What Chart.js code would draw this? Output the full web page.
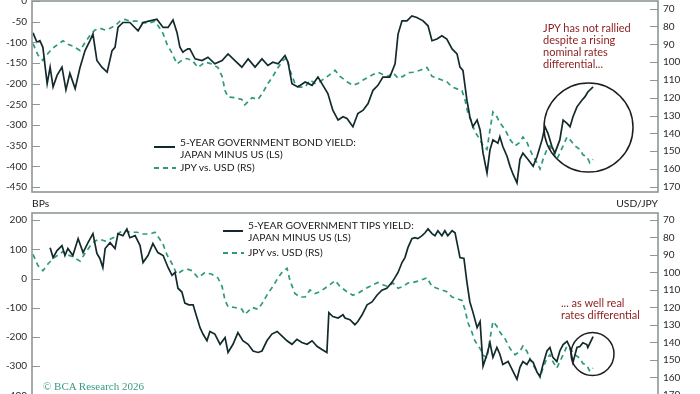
<!DOCTYPE html>
<html>
<head>
<meta charset="utf-8">
<title>JPY vs rates differentials</title>
<style>
	html, body { margin: 0; padding: 0; width: 700px; height: 394px; overflow: hidden; background: #fff; font-family: Lato, "Open Sans", sans-serif; }
	canvas { position: absolute; left: 0; }
	#topChart { top: -10px; }
	#botChart { top: 202px; }
	.txt { position: absolute; white-space: nowrap; color: #1a1a1a; font-size: 10.3px; line-height: 11.5px; }
	.note { position: absolute; white-space: nowrap; color: #8b1c1c; font-size: 11px; line-height: 12px; }
	#marks { position: absolute; left: 0; top: 0; }
</style>
</head>
<body>

<canvas id="topChart" width="700" height="213"></canvas>
<canvas id="botChart" width="700" height="208"></canvas>

<svg id="marks" width="700" height="394">
	<line x1="154" y1="147" x2="175" y2="147" stroke="#132a2c" stroke-width="2"/>
	<line x1="154" y1="168" x2="176" y2="168" stroke="#2e9a79" stroke-width="2" stroke-dasharray="5 4"/>
	<line x1="223" y1="231" x2="243" y2="231" stroke="#132a2c" stroke-width="2"/>
	<line x1="223" y1="253" x2="244" y2="253" stroke="#2e9a79" stroke-width="2" stroke-dasharray="5 4"/>
	<circle cx="588.5" cy="127.5" r="44.5" fill="none" stroke="#1e1e1e" stroke-width="1.5"/>
	<circle cx="592.5" cy="354" r="21.5" fill="none" stroke="#1e1e1e" stroke-width="1.5"/>
</svg>

<div class="txt" style="left:180px; top:137px">5-YEAR GOVERNMENT BOND YIELD:<br>JAPAN MINUS US (LS)</div>
<div class="txt" style="left:180px; top:162px">JPY vs. USD (RS)</div>
<div class="txt" style="left:248px; top:220px">5-YEAR GOVERNMENT TIPS YIELD:<br>JAPAN MINUS US (LS)</div>
<div class="txt" style="left:248px; top:247px">JPY vs. USD (RS)</div>
<div class="note" style="left:543px; top:22px">JPY has not rallied<br>despite a rising<br>nominal rates<br>differential...</div>
<div class="note" style="left:561px; top:297px">... as well real<br>rates differential</div>
<div class="txt" style="left:32px; top:198px">BPs</div>
<div class="txt" style="right:42px; top:198px">USD/JPY</div>
<div class="txt" style="left:43px; top:381px; font-family:'Liberation Serif', serif; font-size:11px; color:#3a9a80">© BCA Research 2026</div>

<script src="https://cdn.jsdelivr.net/npm/chart.js@4.4.1/dist/chart.umd.min.js"></script>

<script>
	// 5-year JGB minus 5-year UST, bps
	const bondDates = [
		2009.03, 2009.15, 2009.24, 2009.33, 2009.46, 2009.55, 2009.64, 2009.76, 2009.91,
		2010.03, 2010.15, 2010.31, 2010.46, 2010.61, 2010.76, 2010.85, 2010.97,
		2011.12, 2011.28, 2011.43, 2011.52, 2011.61, 2011.76, 2011.97,
		2012.22, 2012.37, 2012.58, 2012.79, 2012.98,
		2013.13, 2013.28, 2013.40, 2013.49, 2013.58, 2013.64, 2013.73, 2013.79, 2013.95,
		2014.16, 2014.34, 2014.55, 2014.77, 2014.95,
		2015.16, 2015.37, 2015.56, 2015.77, 2015.98,
		2016.16, 2016.31, 2016.47, 2016.68, 2016.77, 2016.89,
		2017.07, 2017.29, 2017.50, 2017.68, 2017.80, 2017.98,
		2018.13, 2018.29, 2018.44, 2018.56, 2018.74, 2018.89,
		2019.05, 2019.20, 2019.35, 2019.50, 2019.65, 2019.86,
		2020.02, 2020.11, 2020.23, 2020.38, 2020.53, 2020.68, 2020.87,
		2021.02, 2021.14, 2021.29, 2021.44, 2021.59, 2021.75, 2021.90, 2021.99,
		2022.08, 2022.20, 2022.29, 2022.38, 2022.51, 2022.60, 2022.69, 2022.81, 2022.90, 2022.99,
		2023.14, 2023.20, 2023.29, 2023.42, 2023.51, 2023.60, 2023.72, 2023.81, 2023.90,
		2024.05, 2024.21, 2024.33, 2024.48, 2024.57, 2024.66, 2024.78, 2024.87,
		2025.02, 2025.12, 2025.24, 2025.33, 2025.42, 2025.54, 2025.69, 2025.78, 2025.87,
		2026.03
	]
	const bondSpread = [
		-77, -100, -96, -112, -200, -160, -208, -180, -160,
		-215, -175, -212, -160, -120, -96, -80, -144,
		-160, -172, -120, -112, -64, -52, -52,
		-72, -52, -48, -44, -64,
		-64, -46, -76, -112, -124, -120, -116, -116, -140,
		-144, -136, -152, -144, -128,
		-144, -160, -140, -160, -140,
		-156, -148, -152, -132, -148, -200,
		-208, -196, -204, -184, -200, -224,
		-264, -288, -280, -284, -304, -272,
		-264, -248, -216, -204, -184, -184,
		-152, -80, -48, -48, -36, -40, -48,
		-60, -96, -92, -84, -92, -116, -128, -160,
		-168, -240, -280, -304, -288, -312, -368, -416, -360, -336,
		-344, -328, -352, -376, -400, -419, -440, -383, -368,
		-383, -400, -376, -336, -304, -320, -352, -368,
		-336, -288, -296, -304, -280, -256, -240, -232, -220,
		-208
	]

	// 5-year Japan inflation-linked minus 5-year TIPS, bps
	const tipsDates = [
		2009.55, 2009.64, 2009.76, 2009.91,
		2010.00, 2010.09, 2010.24, 2010.40, 2010.55, 2010.70, 2010.85, 2010.97,
		2011.06, 2011.15, 2011.22, 2011.37, 2011.52, 2011.61, 2011.76, 2011.88, 2011.97,
		2012.13, 2012.28, 2012.37, 2012.52, 2012.67, 2012.82, 2012.98,
		2013.13, 2013.25, 2013.34, 2013.43, 2013.55, 2013.64, 2013.76, 2013.89,
		2014.01, 2014.10, 2014.19, 2014.31, 2014.40, 2014.55, 2014.71, 2014.86, 2014.95,
		2015.10, 2015.25, 2015.40, 2015.56, 2015.71, 2015.86, 2015.98,
		2016.13, 2016.28, 2016.44, 2016.59, 2016.74, 2016.89,
		2017.04, 2017.19, 2017.35, 2017.50, 2017.65, 2017.80, 2017.95,
		2018.01, 2018.13, 2018.29, 2018.44, 2018.50, 2018.65, 2018.80, 2018.89,
		2019.02, 2019.17, 2019.32, 2019.47, 2019.62, 2019.77, 2019.93,
		2020.02, 2020.11, 2020.23, 2020.32, 2020.41, 2020.53, 2020.62, 2020.71, 2020.84, 2020.93,
		2021.02, 2021.14, 2021.23, 2021.32, 2021.44, 2021.53, 2021.62, 2021.75, 2021.84, 2021.90, 2021.99,
		2022.11, 2022.20, 2022.29, 2022.38, 2022.51, 2022.60, 2022.69, 2022.81, 2022.90, 2022.99,
		2023.11, 2023.20, 2023.29, 2023.45, 2023.60, 2023.72, 2023.81, 2023.90,
		2024.02, 2024.11, 2024.21, 2024.33, 2024.42, 2024.51, 2024.63, 2024.72, 2024.81, 2024.93,
		2025.02, 2025.12, 2025.24, 2025.33, 2025.42, 2025.54, 2025.63, 2025.72, 2025.84, 2025.87,
		2026.03
	]
	const tipsSpread = [
		106, 72, 96, 113,
		79, 103, 79, 137, 89, 123, 154, 86,
		69, 38, 103, 123, 103, 154, 147, 170, 140,
		147, 113, 55, 79, 120, 89, 79,
		38, 11, 21, -33, -46, -84, -90, -90,
		-135, -168, -190, -213, -181, -190, -225, -202, -253,
		-225, -185, -213, -225, -248, -253, -248,
		-213, -190, -181, -197, -213, -225,
		-208, -219, -225, -213, -232, -243, -253,
		-117, -130, -135, -124, -135, -141, -158, -147,
		-124, -90, -80, -57, -40, -33, -12,
		4, 21, 55, 72, 106, 137, 140, 137, 147, 157,
		170, 154, 147, 164, 147, 164, 147, 164, 157, 123, 72,
		69, -12, -80, -114, -168, -147, -300, -259, -220, -270,
		-236, -259, -294, -284, -318, -345, -304, -284,
		-294, -277, -287, -321, -335, -294, -248, -236, -270, -284,
		-248, -226, -215, -236, -287, -236, -233, -220, -226, -236,
		-199
	]

	// USD/JPY, plotted on an inverted right axis
	const fxDates = [
		2009.03, 2009.18, 2009.33, 2009.49, 2009.64, 2009.79, 2009.94,
		2010.09, 2010.24, 2010.46, 2010.61, 2010.76, 2010.91,
		2011.06, 2011.22, 2011.37, 2011.52, 2011.67, 2011.82, 2011.97,
		2012.19, 2012.37, 2012.58, 2012.73, 2012.88, 2012.98,
		2013.10, 2013.25, 2013.40, 2013.55, 2013.70, 2013.86,
		2014.04, 2014.25, 2014.46, 2014.64, 2014.77, 2014.86, 2014.95,
		2015.16, 2015.37, 2015.46, 2015.68, 2015.86,
		2016.01, 2016.16, 2016.31, 2016.47, 2016.62, 2016.74, 2016.83, 2016.98,
		2017.13, 2017.29, 2017.44, 2017.59, 2017.74, 2017.89,
		2018.04, 2018.20, 2018.35, 2018.56, 2018.74, 2018.89,
		2019.05, 2019.20, 2019.35, 2019.50, 2019.65, 2019.80, 2019.96,
		2020.11, 2020.26, 2020.41, 2020.56, 2020.78, 2020.99,
		2021.14, 2021.29, 2021.44, 2021.59, 2021.75, 2021.90,
		2022.05, 2022.14, 2022.23, 2022.35, 2022.44, 2022.60, 2022.69, 2022.81, 2022.90, 2022.99,
		2023.11, 2023.20, 2023.36, 2023.51, 2023.66, 2023.81, 2023.90,
		2024.02, 2024.11, 2024.21, 2024.33, 2024.42, 2024.51, 2024.63, 2024.72, 2024.81, 2024.93,
		2025.02, 2025.12, 2025.24, 2025.33, 2025.48, 2025.63, 2025.72, 2025.84, 2025.93,
		2026.03
	]
	const usdJpy = [
		89.6, 96, 99, 95, 92, 90, 88,
		90, 91, 93.5, 89, 85, 82,
		81, 82, 81, 79.6, 77, 76, 77,
		77, 78, 78, 77, 81, 84,
		90, 95, 101, 99, 98, 99,
		103, 100, 101, 103, 108, 116, 119.6,
		120, 121, 124, 120, 121,
		117, 112, 108, 103, 99, 97.6, 104.6, 112,
		114, 114, 110, 112, 111, 109,
		107, 104.6, 108, 111, 113, 112,
		110, 108.5, 107, 105.7, 107, 108, 106,
		109, 108, 106, 105.7, 104.6, 103,
		108, 109, 110, 111, 114, 115,
		116, 121, 128.6, 134, 139, 143.5, 147, 149, 138, 128,
		130.7, 134, 138, 143.5, 147, 145, 142,
		145, 149, 153, 156.5, 160, 154.6, 149, 147, 151, 154.6,
		151, 147, 142, 143.5, 147, 149, 152, 153, 156.5,
		154.6
	]

	// tick labels
	const topLeftTicks = [0, -50, -100, -150, -200, -250, -300, -350, -400, -450]
	const botLeftTicks = [200, 100, 0, -100, -200, -300, -400]
	const rightTicks = [70, 80, 90, 100, 110, 120, 130, 140, 150, 160, 170]

	const BLACK = "#132a2c"
	const GREEN = "#2e9a79"
	const AXIS = "#8d9799"

	function pairs(xs, ys) {
		return xs.map((x, i) => ({ x: x, y: ys[i] }))
	}

	// box round the plot and short tick marks pointing into it
	const framePlugin = {
		id: "frame",
		afterDraw(chart) {
			const ctx = chart.ctx
			const a = chart.chartArea
			ctx.save()
			ctx.strokeStyle = AXIS
			ctx.lineWidth = 1
			;["yL", "yR"].forEach((id) => {
				const s = chart.scales[id]
				s.ticks.forEach((t) => {
					const y = Math.round(s.getPixelForValue(t.value)) + 0.5
					const x0 = id === "yL" ? a.left : a.right - 8
					ctx.beginPath()
					ctx.moveTo(x0, y)
					ctx.lineTo(x0 + 8, y)
					ctx.stroke()
				})
			})
			ctx.lineWidth = 1.6
			ctx.strokeRect(a.left, a.top, a.right - a.left, a.bottom - a.top)
			ctx.restore()
		}
	}

	function yAxis(pos, min, max, ticks, reverse, width) {
		return {
			position: pos,
			min: min,
			max: max,
			reverse: reverse,
			afterBuildTicks: (scale) => { scale.ticks = ticks.map((v) => ({ value: v })) },
			afterFit: (scale) => { scale.width = width },
			grid: { drawOnChartArea: false, drawTicks: false },
			border: { display: false },
			ticks: { padding: 5, color: "#2a2a2a", font: { family: "Lato", size: 10 } }
		}
	}

	function newChart(id, label, dates, values, leftMin, leftMax, leftTicks, rightMin, rightMax) {
		return new Chart(document.getElementById(id), {
			type: "line",
			data: {
				datasets: [{
					label: label,
					data: pairs(dates, values),
					yAxisID: "yL",
					borderColor: BLACK,
					borderWidth: 1.7
				}, {
					label: "JPY vs. USD (RS)",
					data: pairs(fxDates, usdJpy),
					yAxisID: "yR",
					borderColor: GREEN,
					borderWidth: 1.7,
					borderDash: [5, 4]
				}]
			},
			options: {
				responsive: false,
				animation: false,
				devicePixelRatio: 1,
				elements: { point: { radius: 0 }, line: { tension: 0 } },
				layout: { padding: { top: 10, bottom: 10, left: 0, right: 0 } },
				plugins: { legend: { display: false }, tooltip: { enabled: false } },
				scales: {
					x: { type: "linear", min: 2009, max: 2028, display: false },
					yL: yAxis("left", leftMin, leftMax, leftTicks, false, 32),
					yR: yAxis("right", rightMin, rightMax, rightTicks, true, 42)
				}
			},
			plugins: [framePlugin]
		})
	}

	newChart("topChart", "5-YEAR GOVERNMENT BOND YIELD: JAPAN MINUS US (LS)",
		bondDates, bondSpread, -462, 0, topLeftTicks, 65.7, 172.9)
	newChart("botChart", "5-YEAR GOVERNMENT TIPS YIELD: JAPAN MINUS US (LS)",
		tipsDates, tipsSpread, -412.5, 224.7, botLeftTicks, 66.0, 172.3)
</script>
</body>
</html>
